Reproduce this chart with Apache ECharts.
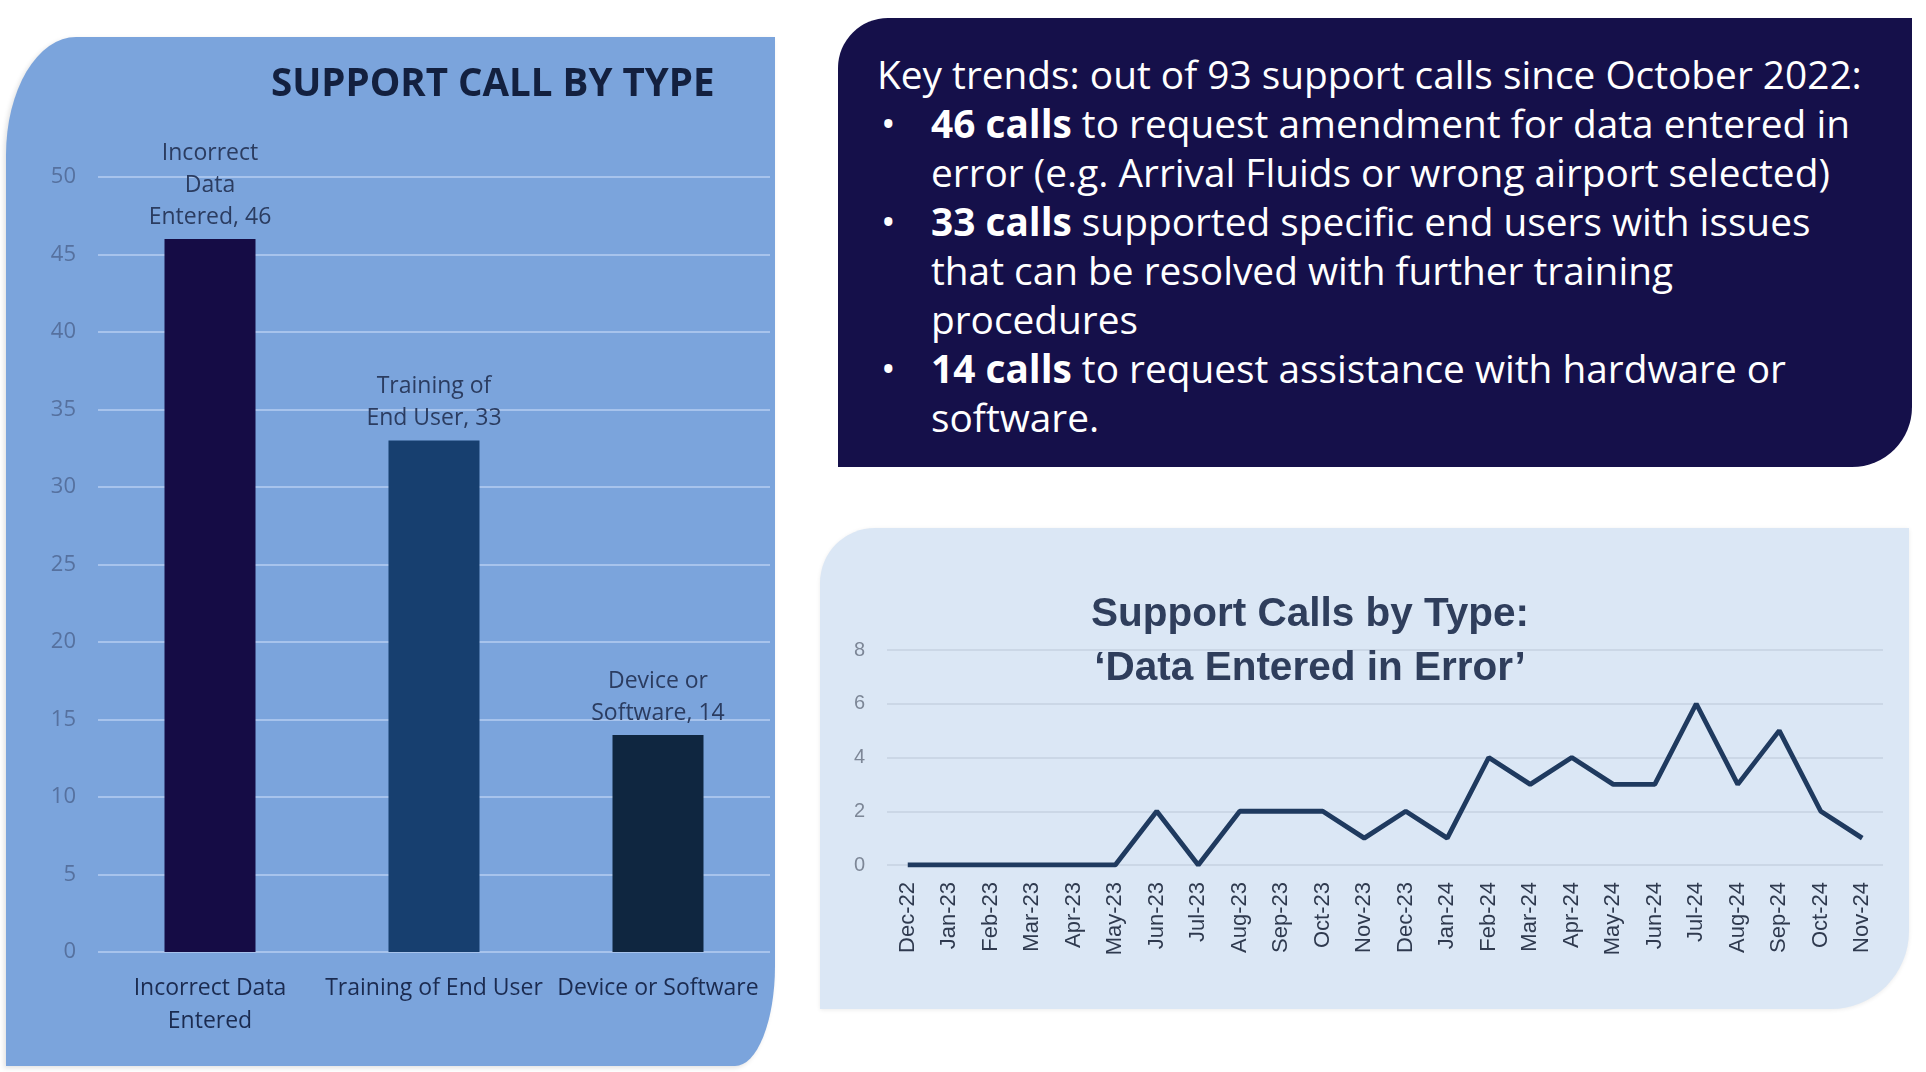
<!DOCTYPE html>
<html lang="en">
<head>
<meta charset="utf-8">
<title>Support Calls by Type</title>
<script src="https://cdn.jsdelivr.net/npm/echarts@6/dist/echarts.min.js"></script>
<style>
    body { margin: 0; width: 1926px; height: 1072px; background: #fff; position: relative; overflow: hidden; font-family: 'Open Sans', sans-serif; }
    .panel { position: absolute; }
    #barPanel { left: 6px; top: 37px; width: 769px; height: 1029px; background: #7ba4dc;
        border-radius: 70px 0 40px 0 / 118px 0 100px 0; box-shadow: -2px 2px 5px rgba(0,0,0,0.12); }
    #notes { left: 838px; top: 18px; width: 1074px; height: 449px; background: #15104a; color: #fff;
        border-radius: 50px 0 60px 0; box-sizing: border-box; padding: 32px 0 0 39px; font-size: 38.8px; line-height: 49px; }
    #linePanel { left: 820px; top: 528px; width: 1089px; height: 481px; background: #dbe7f5;
        border-radius: 55px 0 78px 0; box-shadow: 0 1px 4px rgba(0,0,0,0.08); }
    .chart { width: 100%; height: 100%; }
    .item { position: relative; padding-left: 54px; white-space: nowrap; }
    .item .dot { position: absolute; left: 4px; top: 0; }
    b { font-weight: 700; }
</style>
</head>
<body>
    <!-- bar chart: support calls by type -->
    <div id="barPanel" class="panel"><div id="bar-chart" class="chart"></div></div>

    <!-- key trends text box -->
    <div id="notes" class="panel">
        <div>Key trends: out of 93 support calls since October 2022:</div>
        <div class="item"><span class="dot">•</span><b>46 calls</b> to request amendment for data entered in<br>error (e.g. Arrival Fluids or wrong airport selected)</div>
        <div class="item"><span class="dot">•</span><b>33 calls</b> supported specific end users with issues<br>that can be resolved with further training<br>procedures</div>
        <div class="item"><span class="dot">•</span><b>14 calls</b> to request assistance with hardware or<br>software.</div>
    </div>

    <!-- line chart: data entered in error per month -->
    <div id="linePanel" class="panel"><div id="line-chart" class="chart"></div></div>

    <script>
        // bar chart data
        const callTypes = ['Incorrect Data Entered', 'Training of End User', 'Device or Software'];
        const callTypeTicks = ['Incorrect Data\nEntered', 'Training of End User', 'Device or Software'];
        const callTypeLabels = ['Incorrect\nData\nEntered', 'Training of\nEnd User', 'Device or\nSoftware'];
        const callCounts = [46, 33, 14];
        const barColors = ['#150c45', '#173f6f', '#0f2640'];

        // line chart data
        const months = ['Dec-22', 'Jan-23', 'Feb-23', 'Mar-23', 'Apr-23', 'May-23', 'Jun-23', 'Jul-23',
            'Aug-23', 'Sep-23', 'Oct-23', 'Nov-23', 'Dec-23', 'Jan-24', 'Feb-24', 'Mar-24', 'Apr-24',
            'May-24', 'Jun-24', 'Jul-24', 'Aug-24', 'Sep-24', 'Oct-24', 'Nov-24'];
        const errorCalls = [0, 0, 0, 0, 0, 0, 2, 0, 2, 2, 2, 1, 2, 1, 4, 3, 4, 3, 3, 6, 3, 5, 2, 1];

        const barChart = echarts.init(document.getElementById('bar-chart'));
        const lineChart = echarts.init(document.getElementById('line-chart'));

        barChart.setOption({
            animation: false,
            title: {
                text: 'SUPPORT CALL BY TYPE',
                left: 260, top: 20,
                textStyle: { fontFamily: 'Open Sans', fontWeight: 'bold', fontSize: 38.5, color: '#13203f', lineHeight: 46 }
            },
            grid: { left: 92, right: 5, top: 140, bottom: 114 },
            xAxis: {
                type: 'category',
                data: callTypes,
                axisLine: { show: false },
                axisTick: { show: false },
                axisLabel: {
                    interval: 0, hideOverlap: false,
                    margin: 20, fontSize: 23, lineHeight: 33, color: '#1b2b50', fontFamily: 'Open Sans',
                    formatter: function (v, i) { return callTypeTicks[i]; }
                }
            },
            yAxis: {
                type: 'value', min: 0, max: 50, interval: 5,
                axisLabel: { margin: 22, fontSize: 22, color: '#56719f', fontFamily: 'Open Sans' },
                splitLine: { lineStyle: { color: '#a7c3ec', width: 2 } }
            },
            series: [{
                type: 'bar',
                barWidth: 91,
                data: callCounts.map(function (v, i) { return { value: v, itemStyle: { color: barColors[i] } }; }),
                label: {
                    show: true, position: 'top', distance: 6,
                    fontSize: 23, lineHeight: 32, color: '#2b3c60', fontFamily: 'Open Sans',
                    formatter: function (p) { return callTypeLabels[p.dataIndex] + ', ' + p.value; }
                }
            }]
        });

        lineChart.setOption({
            animation: false,
            graphic: [{
                type: 'text',
                left: 271, top: 60, z: 10,
                style: {
                    text: 'Support Calls by Type:\n‘Data Entered in Error’',
                    fill: '#2f3e5c',
                    font: 'bold 40.5px "Liberation Sans", Arial, sans-serif',
                    lineHeight: 54,
                    align: 'center',
                    textAlign: 'center'
                }
            }],
            grid: { left: 67, right: 26, top: 122, bottom: 144 },
            xAxis: {
                type: 'category',
                data: months,
                boundaryGap: true,
                axisLine: { show: false },
                axisTick: { show: false },
                axisLabel: { rotate: 90, margin: 17, fontSize: 22, color: '#2f3a4f', fontFamily: 'Liberation Sans', interval: 0 }
            },
            yAxis: {
                type: 'value', min: 0, max: 8, interval: 2,
                axisLabel: { margin: 22, fontSize: 20, color: '#7d8797', fontFamily: 'Liberation Sans' },
                splitLine: { lineStyle: { color: '#cbd7e6', width: 2 } }
            },
            series: [{
                type: 'line',
                data: errorCalls,
                symbol: 'none',
                lineStyle: { color: '#1f3a5f', width: 4.8 }
            }]
        });
    </script>
</body>
</html>
